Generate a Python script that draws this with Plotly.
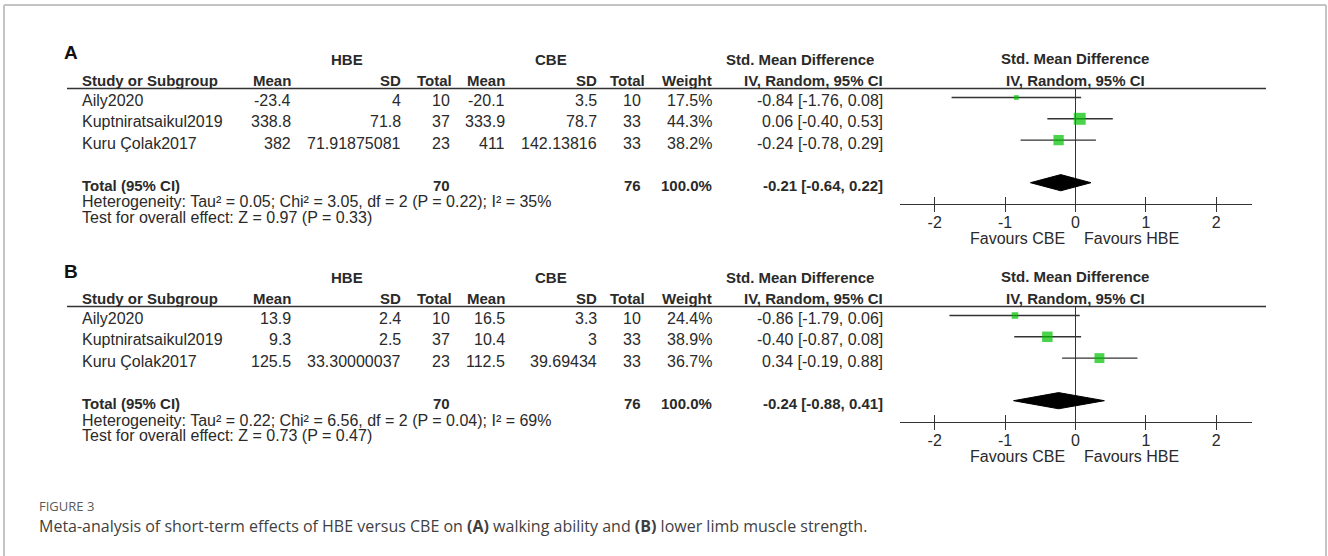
import plotly.graph_objects as go

W, H = 1328, 556

studies = ["Aily2020", "Kuptniratsaikul2019", "Kuru Çolak2017"]

# ---- (A) walking ability ----
a_hbe_mean = [-23.4, 338.8, 382]
a_hbe_sd = [4, 71.8, 71.91875081]
a_hbe_n = [10, 37, 23]
a_cbe_mean = [-20.1, 333.9, 411]
a_cbe_sd = [3.5, 78.7, 142.13816]
a_cbe_n = [10, 33, 33]
a_weight = [17.5, 44.3, 38.2]
a_smd = [-0.84, 0.06, -0.24]
a_lo = [-1.76, -0.40, -0.78]
a_hi = [0.08, 0.53, 0.29]
a_pooled = [-0.21, -0.64, 0.22]          # estimate, lower, upper
a_het = [0.05, 3.05, 2, 0.22, 35]        # Tau², Chi², df, P, I²
a_overall = [0.97, 0.33]                 # Z, P

# ---- (B) lower limb muscle strength ----
b_hbe_mean = [13.9, 9.3, 125.5]
b_hbe_sd = [2.4, 2.5, 33.30000037]
b_hbe_n = [10, 37, 23]
b_cbe_mean = [16.5, 10.4, 112.5]
b_cbe_sd = [3.3, 3, 39.69434]
b_cbe_n = [10, 33, 33]
b_weight = [24.4, 38.9, 36.7]
b_smd = [-0.86, -0.40, 0.34]
b_lo = [-1.79, -0.87, -0.19]
b_hi = [0.06, 0.08, 0.88]
b_pooled = [-0.24, -0.88, 0.41]
b_het = [0.22, 6.56, 2, 0.04, 69]
b_overall = [0.73, 0.47]

x_ticks = [-2, -1, 0, 1, 2]

TXT = "#2a2a2a"
GREEN = "#00c000"
FONT = "Liberation Sans, Arial, sans-serif"
FS = 16      # regular table text
FSB = 15     # bold header text

ROW0, ROWH = 97.5, 21.3   # first study row and row pitch (px)
TOTAL_ROW = 4


def xp(px):
    return px / W


def yp(py):
    return 1 - py / H


def fmt(v):
    return str(v)


def ci(e, l, h):
    return f"{e:.2f} [{l:.2f}, {h:.2f}]"


fig = go.Figure()
annotations = []
shapes = []


def text(s, x, y, anchor="left", bold=False, size=None, color=TXT, family=FONT):
    if size is None:
        size = FSB if bold else FS
    annotations.append(dict(
        text=f"<b>{s}</b>" if bold else s, x=xp(x), y=yp(y), xref="paper", yref="paper",
        xanchor=anchor, yanchor="middle", showarrow=False,
        font=dict(family=family, size=size, color=color)))


def panel(idx, base, letter, hm, hs, hn, cm, cs, cn, wt, smd, lo, hi, pooled, het, overall):
    xa = "x" if idx == 1 else f"x{idx}"
    ya = "y" if idx == 1 else f"y{idx}"
    xt = f"x{idx + 2}"

    def row_px(r):
        return base + ROW0 + ROWH * r

    # column headers
    text(letter, 62, base + 53, bold=True, size=19, color="#111")
    text("HBE", 347, base + 59, "center", bold=True)
    text("CBE", 551, base + 59, "center", bold=True)
    text("Std. Mean Difference", 800, base + 59, "center", bold=True)
    text("Std. Mean Difference", 1075, base + 58, "center", bold=True)
    hy = base + 80
    text("Study or Subgroup", 80, hy, bold=True)
    for s, xr in [("Mean", 293), ("SD", 403), ("Total", 454), ("Mean", 507),
                  ("SD", 599), ("Total", 647), ("Weight", 714), ("IV, Random, 95% CI", 885)]:
        text(s, xr, hy, "right", bold=True)
    text("IV, Random, 95% CI", 1075, hy, "center", bold=True)
    shapes.append(dict(type="line", xref="paper", yref="paper", x0=xp(67), x1=xp(1266),
                       y0=yp(base + 88.5), y1=yp(base + 88.5), line=dict(color="#333", width=1.6)))

    # study rows
    for i, name in enumerate(studies):
        ty = row_px(i) + 3
        text(name, 80, ty)
        text(fmt(hm[i]), 293, ty, "right")
        text(fmt(hs[i]), 403, ty, "right")
        text(fmt(hn[i]), 452, ty, "right")
        text(fmt(cm[i]), 507, ty, "right")
        text(fmt(cs[i]), 599, ty, "right")
        text(fmt(cn[i]), 643, ty, "right")
        text(f"{wt[i]:.1f}%", 714, ty, "right")
        text(ci(smd[i], lo[i], hi[i]), 885, ty, "right")

    # total row
    ty = row_px(TOTAL_ROW) + 3
    text("Total (95% CI)", 80, ty, bold=True)
    text(fmt(sum(hn)), 452, ty, "right", bold=True)
    text(fmt(sum(cn)), 643, ty, "right", bold=True)
    text(f"{sum(wt):.1f}%", 714, ty, "right", bold=True)
    text(ci(*pooled), 885, ty, "right", bold=True)
    text(f"Heterogeneity: Tau² = {het[0]:.2f}; Chi² = {het[1]:.2f}, df = {het[2]} "
         f"(P = {het[3]:.2f}); I² = {het[4]}%", 80, base + 202)
    text(f"Test for overall effect: Z = {overall[0]:.2f} (P = {overall[1]:.2f})", 80, base + 217)
    text("Favours CBE", 1067, base + 238, "right")
    text("Favours HBE", 1082, base + 238, "left")

    # forest: confidence intervals and weighted squares
    fig.add_trace(go.Scatter(
        x=smd, y=list(range(len(studies))), xaxis=xa, yaxis=ya, mode="markers",
        marker=dict(symbol="square", color=GREEN, size=[w * 0.27 for w in wt], line=dict(width=0)),
        error_x=dict(type="data", symmetric=False,
                     array=[h - e for e, h in zip(smd, hi)],
                     arrayminus=[e - l for e, l in zip(smd, lo)],
                     width=0, thickness=1.4, color="#333"),
        hoverinfo="skip", cliponaxis=False))
    # pooled diamond
    e, l, h = pooled
    dh = 0.38
    fig.add_trace(go.Scatter(
        x=[l, e, h, e, l], y=[TOTAL_ROW, TOTAL_ROW - dh, TOTAL_ROW, TOTAL_ROW + dh, TOTAL_ROW],
        xaxis=xa, yaxis=ya, mode="lines", fill="toself", fillcolor="#000",
        line=dict(color="#000", width=1), hoverinfo="skip"))
    # carrier for the crossing tick marks
    fig.add_trace(go.Scatter(x=[0], y=[0], xaxis=xt, yaxis=ya, mode="markers",
                             marker=dict(opacity=0), hoverinfo="skip"))

    top_px, bot_px = base + 88.5, base + 203.5
    dom_x = [xp(899.5), xp(1251.5)]
    dom_y = [yp(bot_px), yp(top_px)]
    yr = [(bot_px - base - ROW0) / ROWH, (top_px - base - ROW0) / ROWH]
    common = dict(domain=dom_x, range=[-2.5, 2.5], tickvals=x_ticks, showgrid=False, fixedrange=True)
    fig.update_layout(**{
        ("xaxis" if idx == 1 else f"xaxis{idx}"): dict(
            **common, anchor=ya, ticks="outside", ticklen=7, tickwidth=1.3, tickcolor="#333",
            ticktext=[str(t) for t in x_ticks], showline=True, linecolor="#333", linewidth=1.3,
            zeroline=True, zerolinecolor="#333", zerolinewidth=1.3, ticklabelstandoff=-3,
            tickfont=dict(family=FONT, size=FS, color=TXT)),
        f"xaxis{idx + 2}": dict(
            **common, anchor=ya, overlaying=xa, ticks="inside", ticklen=7, tickwidth=1.3,
            tickcolor="#333", showticklabels=False, showline=False, zeroline=False),
        ("yaxis" if idx == 1 else f"yaxis{idx}"): dict(
            domain=dom_y, range=yr, visible=False, fixedrange=True),
    })


panel(1, 0, "A", a_hbe_mean, a_hbe_sd, a_hbe_n, a_cbe_mean, a_cbe_sd, a_cbe_n,
      a_weight, a_smd, a_lo, a_hi, a_pooled, a_het, a_overall)
panel(2, 218, "B", b_hbe_mean, b_hbe_sd, b_hbe_n, b_cbe_mean, b_cbe_sd, b_cbe_n,
      b_weight, b_smd, b_lo, b_hi, b_pooled, b_het, b_overall)

# caption
text("FIGURE 3", 37, 506, size=13, color="#5a5a5a", family="Open Sans, sans-serif")
text("Meta-analysis of short-term effects of HBE versus CBE on <b>(A)</b> walking ability and "
     "<b>(B)</b> lower limb muscle strength.", 37, 526, size=16, color="#3f3f3f",
     family="Open Sans, sans-serif")

# page frame
for x0, y0, x1, y1 in [(4, 5, 1326, 5), (4, 5, 4, 556), (1326, 5, 1326, 556)]:
    shapes.append(dict(type="line", xref="paper", yref="paper", x0=xp(x0), y0=yp(y0),
                       x1=xp(x1), y1=yp(y1), line=dict(color="#c4c4c4", width=2)))

fig.update_layout(width=W, height=H, margin=dict(l=0, r=0, t=0, b=0),
                  paper_bgcolor="white", plot_bgcolor="white", showlegend=False,
                  annotations=annotations, shapes=shapes)

fig.write_html("out.html")
